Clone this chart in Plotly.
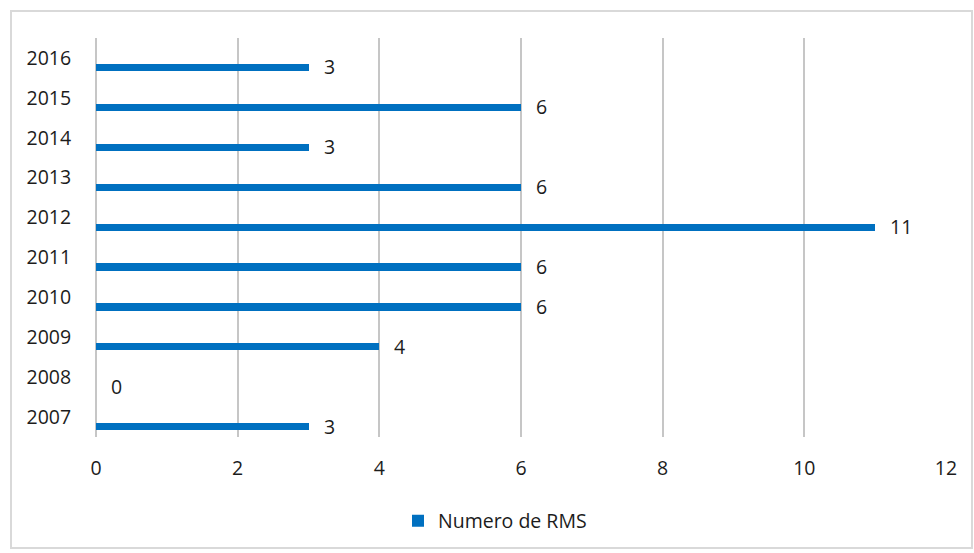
import plotly.graph_objects as go

years = ["2007", "2008", "2009", "2010", "2011", "2012", "2013", "2014", "2015", "2016"]
values = [3, 0, 4, 6, 6, 11, 6, 3, 6, 3]
x_ticks = [0, 2, 4, 6, 8, 10, 12]
series_name = "Numero de RMS"

BLUE = "#0070C0"
GRID = "#C6C6C6"
TEXT = "#1c1c1c"
FONT = "Open Sans"
FS = 19.5

fig = go.Figure()
fig.add_trace(go.Bar(
    x=values, y=years, orientation="h",
    width=0.18, offset=-0.33,
    marker=dict(color=BLUE, line=dict(width=0)),
    name=series_name, showlegend=True,
))

for i, v in enumerate(values):
    fig.add_annotation(
        x=v, y=i, text=str(v), showarrow=False,
        xref="x", yref="y",
        xanchor="left", yanchor="middle", xshift=13, yshift=-9,
        font=dict(family=FONT, size=FS, color=TEXT),
    )

W, H = 974, 553
L, R, T, B = 96, 28, 38, 116
pw = W - L - R
ph = H - T - B

fig.add_shape(
    type="rect", xref="paper", yref="paper",
    x0=(11 - L) / pw, x1=(972 - L) / pw,
    y0=-(548 - (H - B)) / ph, y1=1 + (T - 11) / ph,
    line=dict(color="#D9D9D9", width=2), fillcolor="rgba(0,0,0,0)", layer="below",
)

fig.update_layout(
    width=W, height=H,
    margin=dict(l=L, r=R, t=T, b=B),
    paper_bgcolor="white", plot_bgcolor="white",
    font=dict(family=FONT, size=FS, color=TEXT),
    bargap=0,
    showlegend=True,
    legend=dict(
        orientation="h", x=(495 - L) / pw, xanchor="center", y=-(521 - (H - B)) / ph, yanchor="middle",
        font=dict(family=FONT, size=FS, color=TEXT), bgcolor="rgba(0,0,0,0)",
    ),
    xaxis=dict(
        range=[0, 12], tickvals=x_ticks, ticktext=[str(t) for t in x_ticks],
        showgrid=True, gridcolor=GRID, gridwidth=2,
        zeroline=True, zerolinecolor=GRID, zerolinewidth=2,
        showline=False, ticks="outside", ticklen=14, tickcolor="rgba(0,0,0,0)",
        tickfont=dict(family=FONT, size=FS, color=TEXT),
        fixedrange=True,
    ),
    yaxis=dict(
        type="category", categoryorder="array", categoryarray=years,
        range=[-0.5, 9.5],
        showgrid=False, zeroline=False, showline=False,
        ticks="outside", ticklen=20, tickcolor="rgba(0,0,0,0)",
        tickfont=dict(family=FONT, size=FS, color=TEXT),
        fixedrange=True,
    ),
)

fig.write_html("out.html")
